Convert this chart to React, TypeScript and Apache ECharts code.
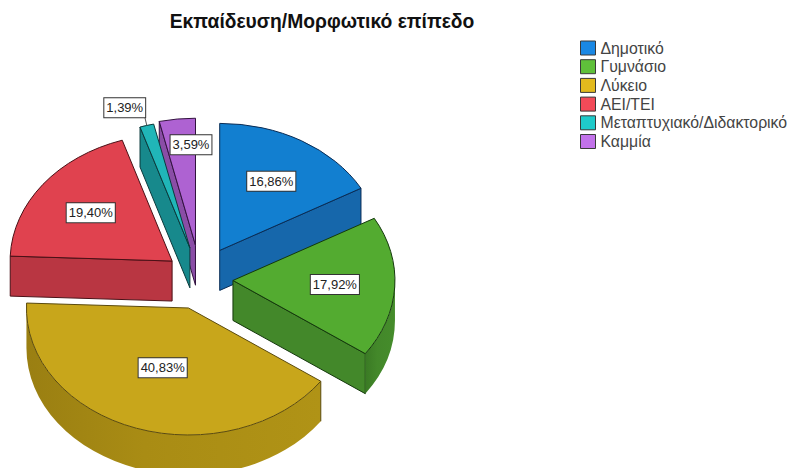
import React, { useEffect, useRef } from "react";
import * as echarts from "echarts";

const titleText = "Εκπαίδευση/Μορφωτικό επίπεδο";
const categories = ["Δημοτικό", "Γυμνάσιο", "Λύκειο", "ΑΕΙ/ΤΕΙ", "Μεταπτυχιακό/Διδακτορικό", "Καμμία"];
const values = [16.86, 17.92, 40.83, 19.4, 1.39, 3.59];

const topColors = ["#127fd0", "#53ab30", "#c8a61b", "#e0424f", "#20b6b8", "#ae62d2"];
const wallColors = ["#1667ab", "#43882a", "#a98c14", "#b93642", "#17898c", "#8a4da6"];
const sideDark = ["#125a96", "#3a7a24", "#9a7f12", "#a52f3a", "#137678", "#7a4293"];
const sideLight = ["#1a70b8", "#458c2b", "#b09316", "#c03845", "#198f92", "#9052ad"];
const lineColors = ["#0a2c55", "#14380c", "#5a4a0e", "#4a1016", "#0b3a3c", "#32123f"];
const legendColors = ["#1a88e4", "#5fc03a", "#e2ba1e", "#f24a58", "#1fcaca", "#c272ea"];
const drawOrder = [5, 4, 0, 3, 1, 2];

// pie geometry (ellipse, thickness, explode distance per slice)
const CX = 200, CY = 279, RX = 162, RY = 127, DEPTH = 40, EXPLODE_Y = 0.85;
const explode = [39, 33, 36, 35, 38, 40];
const labelRadius = 0.63;
const labelNudge: [number, number][] = [[0, 0], [0, 0], [7, -16], [0, 0], [-38, -63], [7, -21]];

const total = values.reduce((a, b) => a + b, 0);
const rad = (d: number) => (d * Math.PI) / 180;
const startAngle = (i: number) => (values.slice(0, i).reduce((a, b) => a + b, 0) / total) * 360;
const endAngle = (i: number) => startAngle(i + 1);
const apex = (i: number) => {
  const m = rad((startAngle(i) + endAngle(i)) / 2);
  return [CX + Math.sin(m) * explode[i], CY - Math.cos(m) * explode[i] * EXPLODE_Y];
};
const rim = (i: number, deg: number, dy = 0) => {
  const [ax, ay] = apex(i);
  return [ax + RX * Math.sin(rad(deg)), ay - RY * Math.cos(rad(deg)) + dy];
};
const p = (q: number[]) => `${q[0].toFixed(2)} ${q[1].toFixed(2)}`;

function sliceItem(i: number) {
  const s = startAngle(i), e = endAngle(i);
  const [ax, ay] = apex(i);
  const children: any[] = [];
  const stroke = { stroke: lineColors[i], lineWidth: 1, lineJoin: "round" };
  const wall = (deg: number) => {
    const r = rim(i, deg);
    children.push({
      type: "path",
      shape: { pathData: `M ${ax} ${ay} L ${p(r)} L ${p(rim(i, deg, DEPTH))} L ${ax} ${ay + DEPTH} Z` },
      style: { fill: wallColors[i], ...stroke },
    });
  };
  if (s > 180) wall(s);
  if (e < 180) wall(e);
  const a = Math.max(s, 90), b = Math.min(e, 270);
  if (b > a) {
    const large = b - a > 180 ? 1 : 0;
    children.push({
      type: "path",
      shape: {
        pathData: `M ${p(rim(i, a))} A ${RX} ${RY} 0 ${large} 1 ${p(rim(i, b))} L ${p(rim(i, b, DEPTH))} A ${RX} ${RY} 0 ${large} 0 ${p(rim(i, a, DEPTH))} Z`,
      },
      style: {
        fill: new echarts.graphic.LinearGradient(1, 0, 0, 0, [
          { offset: 0, color: sideLight[i] },
          { offset: 0.6, color: wallColors[i] },
          { offset: 1, color: sideDark[i] },
        ]),
        stroke: "none",
      },
    });
    if (a === s) {
      const t = rim(i, a);
      children.push({
        type: "line",
        shape: { x1: t[0], y1: t[1], x2: t[0], y2: t[1] + DEPTH },
        style: { stroke: lineColors[i], lineWidth: 1 },
      });
    }
  }
  const large = e - s > 180 ? 1 : 0;
  children.push({
    type: "path",
    shape: { pathData: `M ${ax} ${ay} L ${p(rim(i, s))} A ${RX} ${RY} 0 ${large} 1 ${p(rim(i, e))} Z` },
    style: { fill: topColors[i], ...stroke },
  });
  return { type: "group", children };
}

function labelItem(i: number) {
  const [ax, ay] = apex(i);
  const m = rad((startAngle(i) + endAngle(i)) / 2);
  const x = ax + RX * labelRadius * Math.sin(m) + labelNudge[i][0];
  const y = ay - RY * labelRadius * Math.cos(m) + labelNudge[i][1];
  const children: any[] = [];
  if (values[i] < 2) {
    const r = rim(i, (startAngle(i) + endAngle(i)) / 2);
    children.push({
      type: "line",
      shape: { x1: x + 20, y1: y + 9, x2: r[0], y2: r[1] },
      style: { stroke: "#555", lineWidth: 1 },
    });
  }
  children.push({
    type: "text",
    style: {
      text: values[i].toFixed(2).replace(".", ",") + "%",
      x,
      y,
      align: "center",
      verticalAlign: "middle",
      font: '13px "Liberation Sans", Arial, sans-serif',
      fill: "#222",
      backgroundColor: "#fff",
      borderColor: "#333",
      borderWidth: 1,
      padding: [3, 2, 3, 2],
    },
  });
  return { type: "group", children };
}

export default function App() {
  const ref = useRef<HTMLDivElement>(null);
  useEffect(() => {
    const chart = echarts.init(ref.current!, null, { renderer: "svg" });
    const series: any[] = drawOrder.map((i, order) => ({
      type: "custom",
      name: categories[i],
      coordinateSystem: "none",
      silent: true,
      z: 2 + order,
      data: [[values[i]]],
      itemStyle: { color: legendColors[i] },
      renderItem: () => sliceItem(i),
    }));
    series.push({
      type: "custom",
      name: "labels",
      coordinateSystem: "none",
      silent: true,
      z: 20,
      data: values.map((v) => [v]),
      renderItem: (params: any) => labelItem(params.dataIndex),
    });
    chart.setOption({
      animation: false,
      backgroundColor: "#fff",
      title: {
        text: titleText,
        left: 317,
        top: 7,
        textAlign: "center",
        textStyle: { fontFamily: '"Liberation Sans", Arial, sans-serif', fontSize: 19.3, fontWeight: "bold", color: "#111" },
      },
      legend: {
        orient: "vertical",
        left: 575,
        top: 35,
        itemWidth: 15,
        itemHeight: 14,
        itemGap: 2.7,
        icon: "rect",
        selectedMode: false,
        textStyle: { fontFamily: '"Liberation Sans", Arial, sans-serif', fontSize: 15.8, lineHeight: 14, color: "#444" },
        data: categories.map((name, i) => ({
          name,
          itemStyle: { color: legendColors[i], borderColor: "#3a3a3a", borderWidth: 1 },
        })),
      },
      series,
    });
    return () => chart.dispose();
  }, []);
  return <div ref={ref} style={{ position: "absolute", left: 0, top: 0, width: 790, height: 468 }} />;
}
